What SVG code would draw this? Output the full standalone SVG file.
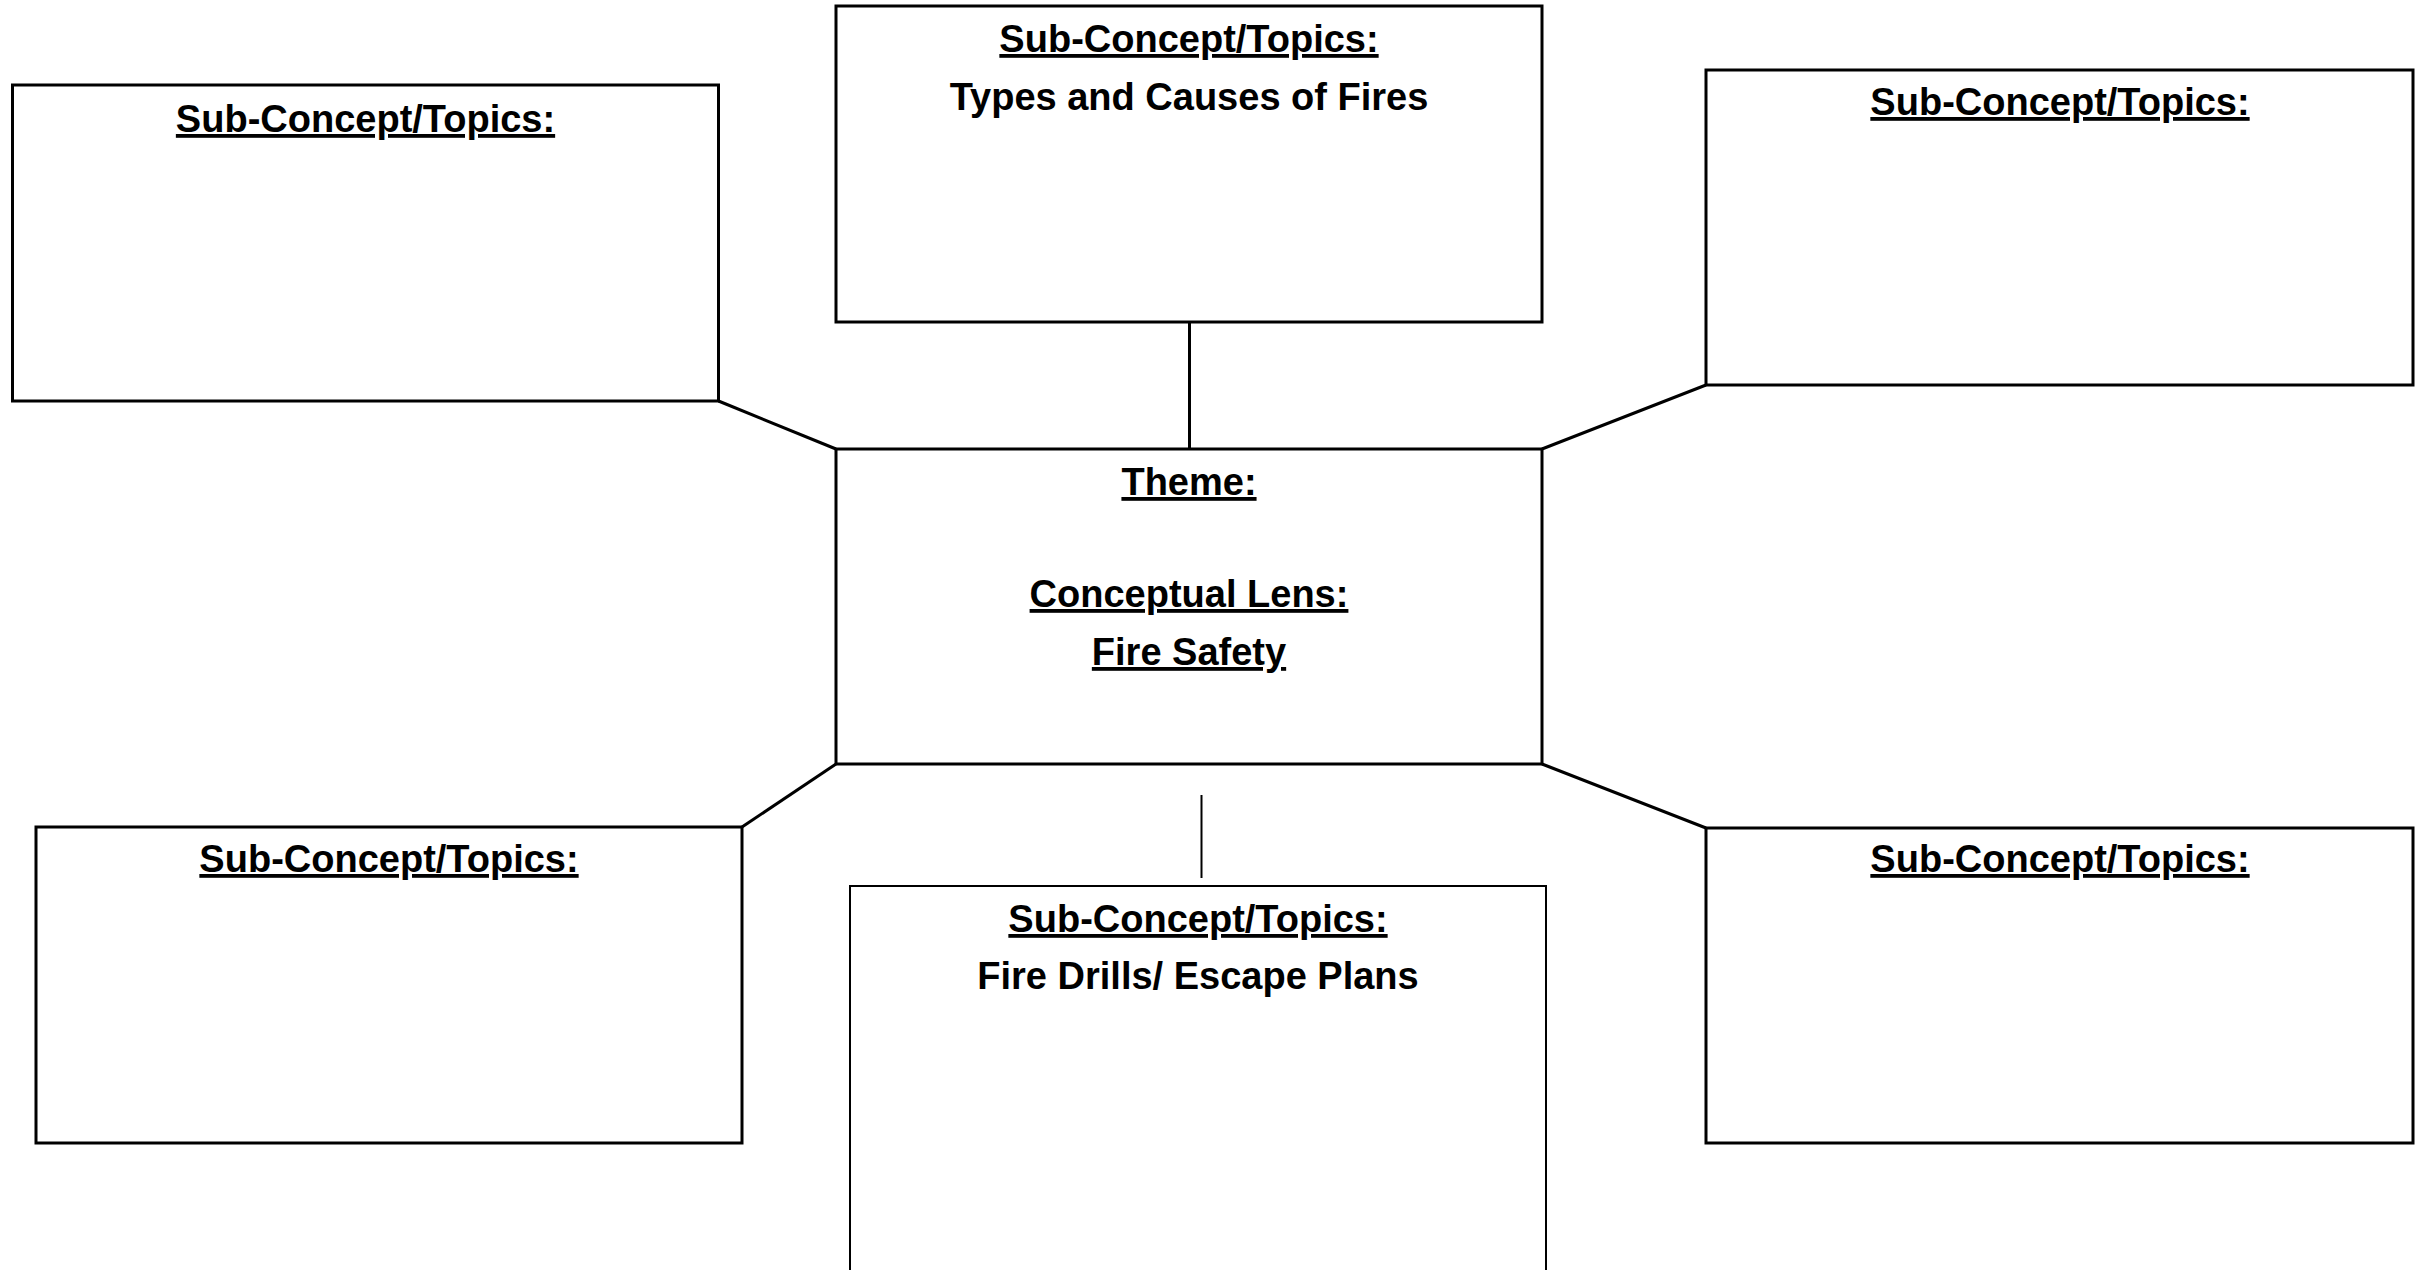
<svg xmlns="http://www.w3.org/2000/svg" width="2424" height="1270" viewBox="0 0 2424 1270">
<style>
.box{fill:#fff;stroke:#000;stroke-width:3}
.thin{stroke-width:2}
.t{font-family:"Liberation Sans",Arial,sans-serif;font-weight:bold;font-size:38px;text-anchor:middle;fill:#000}
.u{text-decoration:underline}
.c{stroke:#000;stroke-width:3;fill:none}
</style>
<rect width="2424" height="1270" fill="#fff"/>
<g id="connectors">
<line class="c" x1="1189.5" y1="322" x2="1189.5" y2="449"/>
<line class="c" x1="718.5" y1="401" x2="836" y2="449"/>
<line class="c" x1="1542" y1="449" x2="1706" y2="385"/>
<line class="c" x1="836" y1="764" x2="742" y2="827"/>
<line class="c" x1="1542" y1="764" x2="1706" y2="828"/>
<line class="c" style="stroke-width:2" x1="1201.5" y1="795" x2="1201.5" y2="878"/>
</g>
<g id="node-top-left">
<rect class="box" x="12.5" y="85" width="706" height="316"/>
<text class="t u" x="365.5" y="132">Sub-Concept/Topics:</text>
</g>
<g id="node-top-center">
<rect class="box" x="836" y="6" width="706" height="316"/>
<text class="t u" x="1189" y="52">Sub-Concept/Topics:</text>
<text class="t" x="1189" y="110">Types and Causes of Fires</text>
</g>
<g id="node-top-right">
<rect class="box" x="1706" y="70" width="707" height="315"/>
<text class="t u" x="2060" y="115">Sub-Concept/Topics:</text>
</g>
<g id="node-theme">
<rect class="box" x="836" y="449" width="706" height="315"/>
<text class="t u" x="1189" y="495">Theme:</text>
<text class="t u" x="1189" y="607">Conceptual Lens:</text>
<text class="t u" x="1189" y="665">Fire Safety</text>
</g>
<g id="node-bottom-left">
<rect class="box" x="36" y="827" width="706" height="316"/>
<text class="t u" x="389" y="872">Sub-Concept/Topics:</text>
</g>
<g id="node-bottom-right">
<rect class="box" x="1706" y="828" width="707" height="315"/>
<text class="t u" x="2060" y="872">Sub-Concept/Topics:</text>
</g>
<g id="node-bottom-center">
<rect class="box thin" x="850" y="886" width="696" height="390"/>
<text class="t u" x="1198" y="932">Sub-Concept/Topics:</text>
<text class="t" x="1198" y="989">Fire Drills/ Escape Plans</text>
</g>
</svg>
